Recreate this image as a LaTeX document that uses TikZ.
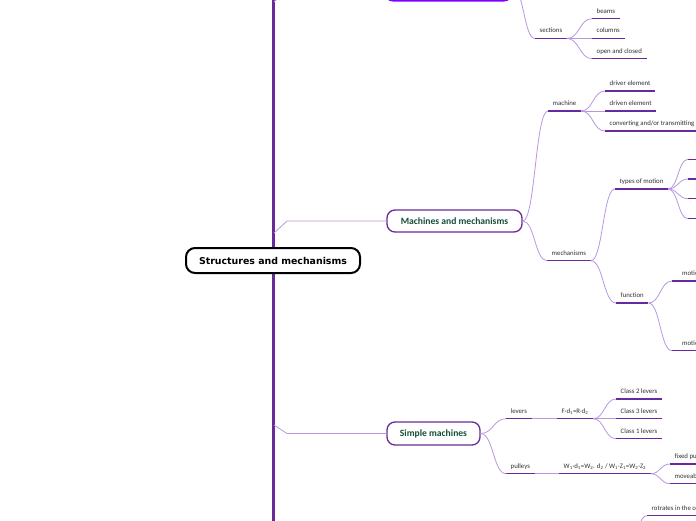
\documentclass[tikz,border=0pt]{standalone}
\usepackage{fontspec}
\setmainfont{Carlito}
\newfontfamily\dejavu{DejaVu Sans}
\usetikzlibrary{calc}
\definecolor{spinec}{RGB}{104,44,152}
\definecolor{ulinec}{RGB}{104,40,160}
\definecolor{connc}{RGB}{186,152,222}
\definecolor{nodec}{RGB}{104,44,152}
\definecolor{topc}{RGB}{128,0,255}
\definecolor{greenc}{RGB}{22,78,58}
\definecolor{textc}{RGB}{50,50,50}
\newcommand\mmlink[2]{\draw[conn] let \p1=(#1), \p2=(#2) in (\p1) .. controls ({0.5*\x1+0.5*\x2},\y1) and ({0.5*\x1+0.5*\x2},\y2) .. (\p2);}
\begin{document}
\begin{tikzpicture}[x=1pt,y=-1pt,
  conn/.style={draw=connc,line width=0.8pt},
  spine/.style={draw=spinec,line width=3pt},
  uline/.style={draw=ulinec,line width=1.4pt},
  topic/.style={anchor=south west,inner xsep=4.5pt,inner ysep=4pt,text height=4.8pt,text depth=1.5pt,
    font=\fontsize{6.8}{8}\selectfont,text=textc,
    append after command={(\tikzlastnode.south west) edge[uline] (\tikzlastnode.south east)}},
  mainnode/.style={draw=nodec,line width=1.3pt,fill=white,rounded corners=8pt,inner sep=0pt,
    text=greenc,font=\bfseries\fontsize{9.6}{11}\selectfont},
  central/.style={draw=black,line width=2pt,fill=white,rounded corners=9pt,inner sep=0pt,
    text=black,font=\dejavu\bfseries\fontsize{9.4}{11}\selectfont}]
\useasboundingbox (0,0) rectangle (696,520);
\clip (0,0) rectangle (696,520);
\fill[white] (0,0) rectangle (696,520);

% spine
\coordinate (spt) at (273.3,-10);
\coordinate (spb) at (273.3,530);
\draw[spine] (spt) -- (spb);

% main nodes
\node[central,minimum width=174pt,minimum height=25pt] (root) at (273,260.5) {Structures and mechanisms};
\node[draw=topc,line width=2pt,fill=white,rounded corners=8pt,minimum width=127pt,minimum height=23pt] (top) at (448.5,-11) {};
\node[mainnode,minimum width=135pt,minimum height=22pt] (mm) at (454.5,221) {Machines and mechanisms};
\node[mainnode,minimum width=93pt,minimum height=23pt] (sm) at (433.5,433.5) {Simple machines};

% spine connectors
\coordinate (s0) at (274,2);   \coordinate (b0) at (287,-11);
\coordinate (s1) at (274,233); \coordinate (b1) at (287,221);
\coordinate (s2) at (274,425); \coordinate (b2) at (287,433.5);
\draw[conn] (s0) -- (b0) -- (top.west);
\draw[conn] (s1) -- (b1) -- (mm.west);
\draw[conn] (s2) -- (b2) -- (sm.west);

% structures branch
\node[topic] (sections) at (535,38.5) {sections};
\node[topic] (beams) at (592,18.7) {beams};
\node[topic] (columns) at (592,38.5) {columns};
\node[topic] (openclosed) at (592,58.7) {open and closed};
\mmlink{top.east}{sections.south west}
\mmlink{sections.south east}{beams.south west}
\mmlink{sections.south east}{columns.south west}
\mmlink{sections.south east}{openclosed.south west}

% machines and mechanisms branch
\node[topic] (machine) at (548,111) {machine};
\node[topic] (driver) at (605,91) {driver element};
\node[topic] (driven) at (605,111) {driven element};
\node[topic] (convert) at (605,131) {converting and/or transmitting};
\mmlink{mm.east}{machine.south west}
\mmlink{machine.south east}{driver.south west}
\mmlink{machine.south east}{driven.south west}
\mmlink{machine.south east}{convert.south west}

\node[topic] (mech) at (547,260.7) {mechanisms};
\node[topic] (types) at (615,189) {types of motion};
\node[topic] (func) at (616,303) {function};
\mmlink{mm.east}{mech.south west}
\mmlink{mech.south east}{types.south west}
\mmlink{mech.south east}{func.south west}

\node[topic,minimum width=20pt] (tm1) at (688,159.3) {};
\node[topic,minimum width=20pt] (tm2) at (688,179) {};
\node[topic,minimum width=20pt] (tm3) at (688,198.7) {};
\node[topic,minimum width=20pt] (tm4) at (688,218.7) {};
\mmlink{types.south east}{tm1.south west}
\mmlink{types.south east}{tm2.south west}
\mmlink{types.south east}{tm3.south west}
\mmlink{types.south east}{tm4.south west}

\node[topic,minimum width=40pt,align=left] (mot1) at (672,281) {motion};
\node[topic,minimum width=40pt,align=left] (mot2) at (672,350.7) {motion};
\mmlink{func.south east}{mot1.south west}
\mmlink{func.south east}{mot2.south west}

% simple machines branch
\node[topic] (levers) at (506,418.7) {levers};
\node[topic] (pulleys) at (506,473.7) {pulleys};
\mmlink{sm.east}{levers.south west}
\mmlink{sm.east}{pulleys.south west}

\node[topic] (lawl) at (557,418.7) {F·d\textsubscript{1}=R·d\textsubscript{2}};
\mmlink{levers.south east}{lawl.south west}
\node[topic] (cl2) at (616,399) {Class 2 levers};
\node[topic] (cl3) at (616,418.7) {Class 3 levers};
\node[topic] (cl1) at (616,438.7) {Class 1 levers};
\mmlink{lawl.south east}{cl2.south west}
\mmlink{lawl.south east}{cl3.south west}
\mmlink{lawl.south east}{cl1.south west}

\node[topic] (lawp) at (559,473.7) {W\textsubscript{1}·d\textsubscript{1}=W\textsubscript{2}. d\textsubscript{2} / W\textsubscript{1}·Z\textsubscript{1}=W\textsubscript{2}·Z\textsubscript{2}};
\mmlink{pulleys.south east}{lawp.south west}
\node[topic] (fixed) at (670,464) {fixed pulley};
\node[topic] (moveable) at (670,483.7) {moveable pulley};
\mmlink{lawp.south east}{fixed.south west}
\mmlink{lawp.south east}{moveable.south west}

% bottom partial branch
\coordinate (rp) at (620,580);
\node[topic] (rot) at (647,515.7) {rotrates in the opposite direction};
\mmlink{rp}{rot.south west}
\end{tikzpicture}
\end{document}
